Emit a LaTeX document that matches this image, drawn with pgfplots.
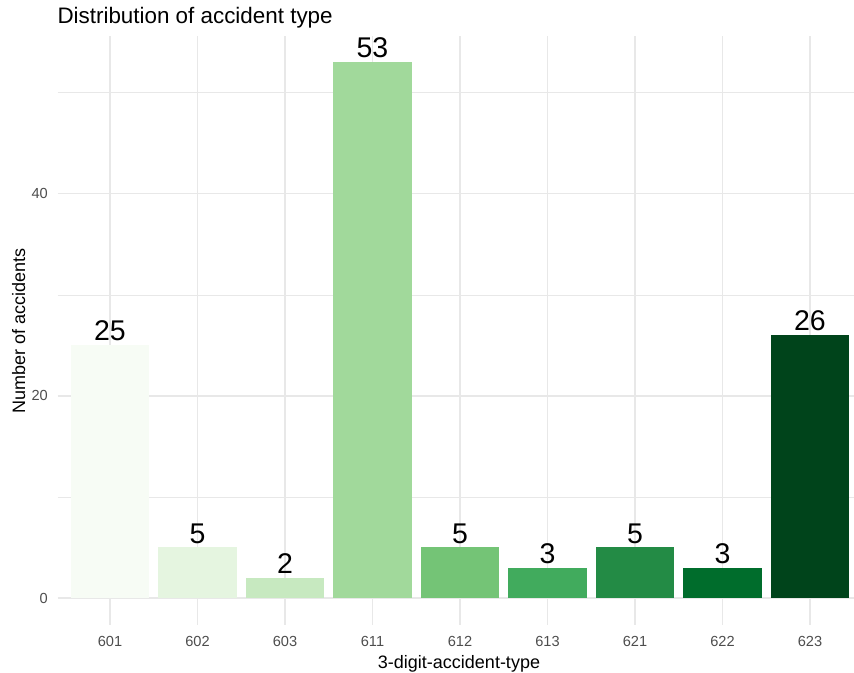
\documentclass[border=0pt]{standalone}
\usepackage{fontspec}
\setmainfont{Liberation Sans}
\usepackage{pgfplots}
\pgfplotsset{compat=1.18}
\definecolor{g1}{HTML}{F7FCF5}
\definecolor{g2}{HTML}{E5F5E0}
\definecolor{g3}{HTML}{C7E9C0}
\definecolor{g4}{HTML}{A1D99B}
\definecolor{g5}{HTML}{74C476}
\definecolor{g6}{HTML}{41AB5D}
\definecolor{g7}{HTML}{238B45}
\definecolor{g8}{HTML}{006D2C}
\definecolor{g9}{HTML}{00441B}
\definecolor{gridc}{HTML}{E8E8E8}
\definecolor{tickc}{HTML}{4D4D4D}
\begin{document}
\begin{tikzpicture}[x=1pt,y=1pt]
\useasboundingbox (0,0) rectangle (854,672);
\begin{axis}[
  at={(57.5pt,47.2pt)}, anchor=south west,
  scale only axis, width=796.5pt, height=589.1pt,
  xmin=0.4, xmax=9.503, ymin=-2.65, ymax=55.65,
  axis line style={draw=none},
  major tick length=0pt, minor tick length=0pt,
  xtick={1,2,3,4,5,6,7,8,9},
  xticklabels={601,602,603,611,612,613,621,622,623},
  ytick={0,20,40}, minor ytick={10,30,50},
  xmajorgrids, ymajorgrids, yminorgrids,
  major grid style={gridc, line width=1.2pt},
  minor grid style={gridc, line width=0.6pt},
  /pgf/number format/assume math mode=true,
  ticklabel style={font=\fontsize{14.6}{14.6}\selectfont, text=tickc, inner sep=0pt},
  xticklabel style={anchor=north, yshift=-11pt},
  yticklabel style={anchor=east, xshift=-9.5pt},
  ybar, bar width=0.9, bar shift=0pt,
  nodes near coords,
  nodes near coords style={font=\fontsize{28.5}{28.5}\selectfont, text=black, anchor=south, inner sep=0pt, yshift=4pt},
]
\addplot[fill=g1, draw=none] coordinates {(1,25)};
\addplot[fill=g2, draw=none] coordinates {(2,5)};
\addplot[fill=g3, draw=none] coordinates {(3,2)};
\addplot[fill=g4, draw=none] coordinates {(4,53)};
\addplot[fill=g5, draw=none] coordinates {(5,5)};
\addplot[fill=g6, draw=none] coordinates {(6,3)};
\addplot[fill=g7, draw=none] coordinates {(7,5)};
\addplot[fill=g8, draw=none] coordinates {(8,3)};
\addplot[fill=g9, draw=none] coordinates {(9,26)};
\end{axis}
\node[anchor=base west, inner sep=0pt] at (57.3,648.5) {\fontsize{22.4}{22.4}\selectfont Distribution of accident type};
\node[anchor=base, inner sep=0pt] at (459,4) {\fontsize{18}{18}\selectfont 3-digit-accident-type};
\node[rotate=90, anchor=base, inner sep=0pt] at (25,341) {\fontsize{18}{18}\selectfont Number of accidents};
\end{tikzpicture}
\end{document}
